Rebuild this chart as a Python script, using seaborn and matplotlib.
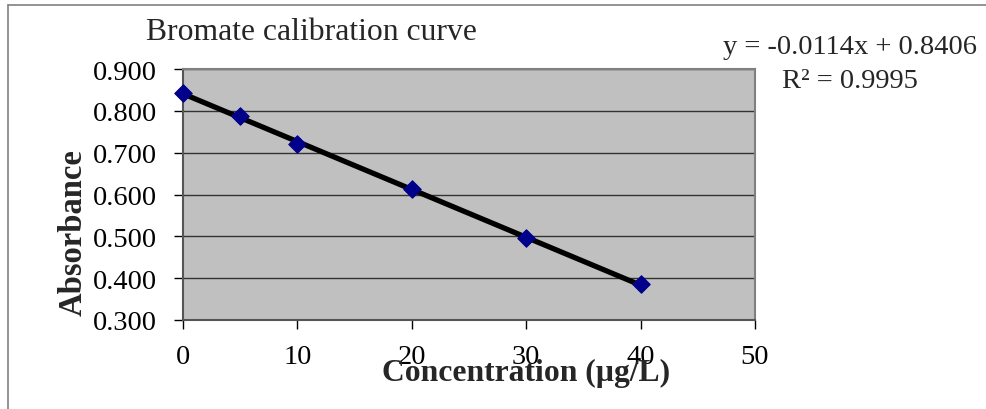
import numpy as np
import matplotlib
matplotlib.use("Agg")
import matplotlib.pyplot as plt
import seaborn as sns

# Bromate calibration data
concentracion = [0, 5, 10, 20, 30, 40]
absorbancia = [0.843, 0.787, 0.720, 0.612, 0.497, 0.385]
x_ticks = [0, 10, 20, 30, 40, 50]
y_ticks = [0.3, 0.4, 0.5, 0.6, 0.7, 0.8, 0.9]

sns.set_style("white", {"xtick.bottom": True, "ytick.left": True})
plt.rcParams['font.family'] = ['Liberation Serif', 'DejaVu Serif']

fig = plt.figure(figsize=(9.86, 4.10), dpi=100)
ax = fig.add_axes([183/986, 1 - 321/410, (755-183)/986, (321-70)/410])
ax.set_facecolor("#c0c0c0")

# linea de tendencia
pend, orden = np.polyfit(concentracion, absorbancia, 1)
xs = np.array([min(concentracion), max(concentracion)])
sns.lineplot(x=xs, y=pend*xs + orden, color="black", linewidth=3.8, ax=ax, zorder=3)
sns.scatterplot(x=concentracion, y=absorbancia, marker="D", s=80, color="#00008b",
                edgecolor="#00008b", ax=ax, zorder=4, clip_on=False)

ax.set_xlim(0, 50)
ax.set_ylim(0.3, 0.9)
ax.set_xticks(x_ticks)
ax.set_yticks(y_ticks)
ax.set_yticklabels([f"{v:.3f}" for v in y_ticks])
ax.yaxis.grid(True, color="#333333", linewidth=1)
ax.set_axisbelow(True)
ax.tick_params(axis="both", direction="out", length=6.5, width=1, colors="black",
               labelsize=20.5)
ax.tick_params(axis="y", pad=12)
ax.tick_params(axis="x", pad=11)
for lado in ["left", "bottom"]:
    ax.spines[lado].set_color("#555555")
    ax.spines[lado].set_linewidth(1.5)
for lado in ["top", "right"]:
    ax.spines[lado].set_color("#808080")
    ax.spines[lado].set_linewidth(1.5)

ax.set_xlabel("Concentration (µg/L)", fontsize=22.8, fontweight="bold")
ax.xaxis.label.set_va("center")
ax.xaxis.set_label_coords(0.6005, -0.207)
ax.set_ylabel("Absorbance", fontsize=23.5, fontweight="bold")
ax.yaxis.label.set_va("center")
ax.yaxis.set_label_coords(-0.192, 0.3526)

fig.text(146/986, 1 - 32/410, "Bromate calibration curve", fontsize=22.8, va="center", ha="left")
fig.text(977/986, 1 - 47/410, "y = -0.0114x + 0.8406", fontsize=20.5, va="center", ha="right")
fig.text(782/986, 1 - 82/410, "R² = 0.9995", fontsize=20.5, va="center", ha="left")

# marco del grafico
fig.add_artist(plt.Line2D([8/986, 8/986], [0, 1 - 6/410], color="#808080", linewidth=1.2))
fig.add_artist(plt.Line2D([8/986, 1], [1 - 6/410, 1 - 6/410], color="#808080", linewidth=1.2))

fig.savefig("out.png", dpi=100)
